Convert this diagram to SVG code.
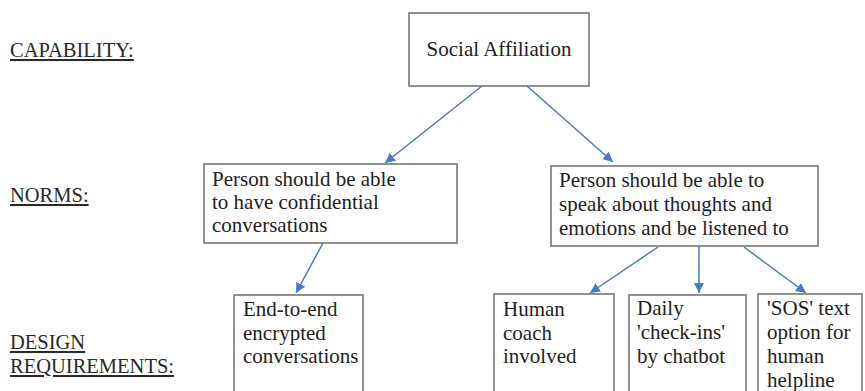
<svg xmlns="http://www.w3.org/2000/svg" width="865" height="391" viewBox="0 0 865 391">
<style>
.bg{fill:#ffffff}
.box{fill:#ffffff;stroke:#6e6e6e;stroke-width:1.5}
.t{font-size:21px;fill:#1e1e1e}
.lbl{font-size:20.5px;fill:#2a2a2a;text-decoration:underline}
.c{stroke:#4a78c6;stroke-width:1.5;fill:none;marker-end:url(#ah)}
</style>
<defs>
<marker id="ah" viewBox="0 0 10 10" refX="10" refY="5" markerWidth="10" markerHeight="10" markerUnits="userSpaceOnUse" orient="auto">
<path d="M0,0 L10,5 L0,10 Z" fill="#4a78c6"/>
</marker>
</defs>
<rect class="bg" x="0" y="0" width="865" height="391"/>
<g font-family="'Liberation Serif', 'Times New Roman', Times, Tinos, 'Noto Serif', 'DejaVu Serif', serif">
<g id="labels">
<text class="lbl" x="10" y="57">CAPABILITY:</text>
<text class="lbl" x="10" y="202">NORMS:</text>
<text class="lbl" x="10" y="349">DESIGN</text>
<text class="lbl" x="10" y="373">REQUIREMENTS:</text>
</g>
<g id="connectors">
<line class="c" x1="482" y1="86" x2="385" y2="163"/>
<line class="c" x1="527" y1="86" x2="613" y2="162"/>
<line class="c" x1="323" y1="243" x2="296" y2="293"/>
<line class="c" x1="658" y1="247" x2="590" y2="293"/>
<line class="c" x1="699" y1="247" x2="699" y2="293"/>
<line class="c" x1="744" y1="247" x2="806" y2="293"/>
</g>
<g id="social-affiliation">
<rect class="box" x="409" y="13" width="180" height="73"/>
<text class="t" x="499" y="56" text-anchor="middle">Social Affiliation</text>
</g>
<g id="norm-confidential">
<rect class="box" x="204" y="164" width="253" height="79"/>
<text class="t" x="212" y="186">Person should be able</text>
<text class="t" x="212" y="209">to have confidential</text>
<text class="t" x="212" y="232">conversations</text>
</g>
<g id="norm-listened">
<rect class="box" x="551" y="166" width="267" height="80"/>
<text class="t" x="559" y="187">Person should be able to</text>
<text class="t" x="559" y="211">speak about thoughts and</text>
<text class="t" x="559" y="235">emotions and be listened to</text>
</g>
<g id="req-encrypted">
<rect class="box" x="234" y="295" width="129" height="110"/>
<text class="t" x="243" y="316">End-to-end</text>
<text class="t" x="243" y="339.5">encrypted</text>
<text class="t" x="243" y="363">conversations</text>
</g>
<g id="req-coach">
<rect class="box" x="494" y="294" width="120" height="110"/>
<text class="t" x="503" y="316">Human</text>
<text class="t" x="503" y="339.5">coach</text>
<text class="t" x="503" y="363">involved</text>
</g>
<g id="req-checkins">
<rect class="box" x="629" y="295" width="117" height="110"/>
<text class="t" x="637" y="315">Daily</text>
<text class="t" x="637" y="339">'check-ins'</text>
<text class="t" x="637" y="363">by chatbot</text>
</g>
<g id="req-sos">
<rect class="box" x="758" y="294" width="104" height="110"/>
<text class="t" x="767" y="315">'SOS' text</text>
<text class="t" x="767" y="339">option for</text>
<text class="t" x="767" y="363">human</text>
<text class="t" x="767" y="387">helpline</text>
</g>
</g>
</svg>
